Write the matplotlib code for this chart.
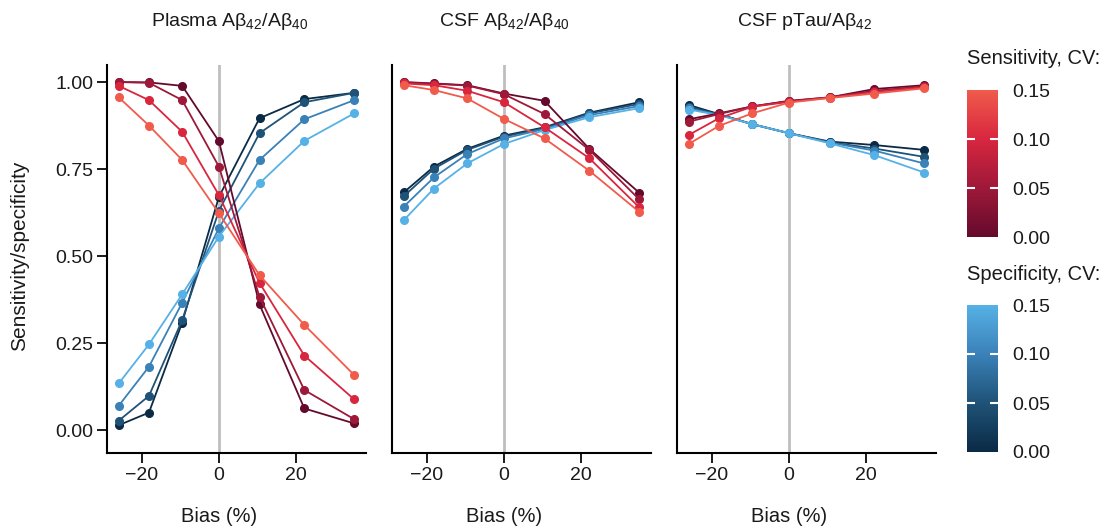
import numpy as np
import matplotlib
matplotlib.use('Agg')
import matplotlib.pyplot as plt
from matplotlib.colors import LinearSegmentedColormap, Normalize
from matplotlib.cm import ScalarMappable

plt.rcParams['font.family'] = ['Liberation Sans', 'DejaVu Sans']
plt.rcParams['mathtext.fontset'] = 'custom'
plt.rcParams['mathtext.rm'] = 'Liberation Sans'

# ---- data ----
bias = [-25.9, -18.1, -9.5, 0.0, 10.5, 22.1, 35.0]
cv_levels = [0.00, 0.05, 0.10, 0.15]

panel_titles = ['Plasma Aβ$_\\mathregular{42}$/Aβ$_\\mathregular{40}$',
                'CSF Aβ$_\\mathregular{42}$/Aβ$_\\mathregular{40}$',
                'CSF pTau/Aβ$_\\mathregular{42}$']

# sensitivity, one row per CV level
sens_plasma = [[1.000, 0.999, 0.989, 0.830, 0.361, 0.062, 0.019],
               [1.000, 0.998, 0.948, 0.757, 0.383, 0.115, 0.031],
               [0.989, 0.948, 0.857, 0.675, 0.423, 0.214, 0.088],
               [0.956, 0.875, 0.776, 0.623, 0.445, 0.302, 0.158]]
spec_plasma = [[0.014, 0.050, 0.309, 0.670, 0.896, 0.951, 0.969],
               [0.027, 0.098, 0.316, 0.630, 0.853, 0.942, 0.969],
               [0.070, 0.182, 0.366, 0.580, 0.776, 0.893, 0.948],
               [0.134, 0.246, 0.390, 0.556, 0.709, 0.831, 0.910]]

sens_csf_ab = [[1.000, 0.996, 0.991, 0.967, 0.946, 0.808, 0.682],
               [0.999, 0.995, 0.990, 0.965, 0.908, 0.805, 0.663],
               [0.996, 0.991, 0.975, 0.942, 0.870, 0.781, 0.640],
               [0.991, 0.977, 0.953, 0.894, 0.838, 0.745, 0.627]]
spec_csf_ab = [[0.683, 0.757, 0.808, 0.846, 0.870, 0.912, 0.942],
               [0.672, 0.751, 0.805, 0.843, 0.868, 0.910, 0.937],
               [0.642, 0.726, 0.793, 0.838, 0.865, 0.905, 0.931],
               [0.603, 0.694, 0.766, 0.822, 0.862, 0.899, 0.925]]

sens_csf_ptau = [[0.893, 0.910, 0.930, 0.946, 0.956, 0.980, 0.991],
                 [0.886, 0.908, 0.930, 0.945, 0.956, 0.975, 0.988],
                 [0.848, 0.896, 0.929, 0.943, 0.955, 0.971, 0.985],
                 [0.822, 0.874, 0.910, 0.941, 0.954, 0.967, 0.982]]
spec_csf_ptau = [[0.934, 0.908, 0.879, 0.853, 0.829, 0.819, 0.805],
                 [0.929, 0.907, 0.879, 0.853, 0.827, 0.809, 0.785],
                 [0.924, 0.906, 0.879, 0.853, 0.826, 0.803, 0.766],
                 [0.921, 0.905, 0.879, 0.853, 0.824, 0.790, 0.740]]

sens_all = [sens_plasma, sens_csf_ab, sens_csf_ptau]
spec_all = [spec_plasma, spec_csf_ab, spec_csf_ptau]

# ---- colours ----
sens_cmap = LinearSegmentedColormap.from_list(
    'sens', ['#640a2c', '#9e1839', '#d8263f', '#f05b4b'])
spec_cmap = LinearSegmentedColormap.from_list(
    'spec', ['#0a2a45', '#1f5277', '#3a81b8', '#56b1e6'])
norm = Normalize(0, 0.15)

W, H = 1107, 529
fig = plt.figure(figsize=(W / 100, H / 100), dpi=100)

lefts = [107, 392, 677]
ax_w, ax_b, ax_h = 259, 76, 388
title_x = [230, 505, 805]   # pixel centres of the panel titles

for i in range(3):
    ax = fig.add_axes([lefts[i] / W, ax_b / H, ax_w / W, ax_h / H])
    ax.axvline(0, color='#bebebe', lw=2, zorder=1)
    for k, cv in enumerate(cv_levels):
        ax.plot(bias, spec_all[i][k], '-o', color=spec_cmap(norm(cv)),
                lw=1.3, ms=5.5, zorder=2 + k)
    for k, cv in enumerate(cv_levels):
        ax.plot(bias, sens_all[i][k], '-o', color=sens_cmap(norm(cv)),
                lw=1.3, ms=5.5, zorder=6 + k)
    ax.set_xlim(-28.95, 38.05)
    ax.set_ylim(-0.066, 1.049)
    ax.set_xticks([-20, 0, 20])
    ax.set_yticks([0, 0.25, 0.5, 0.75, 1.0])
    ax.set_yticklabels(['0.00', '0.25', '0.50', '0.75', '1.00'])
    for s in ['top', 'right']:
        ax.spines[s].set_visible(False)
    for s in ['left', 'bottom']:
        ax.spines[s].set_linewidth(1.5)
        ax.spines[s].set_color('black')
    ax.tick_params(length=7, width=1.4, labelsize=14, pad=3,
                   colors='#1a1a1a')
    if i > 0:
        ax.tick_params(axis='y', left=False, labelleft=False)
    fig.text(title_x[i] / W, 1 - 22 / H, panel_titles[i],
             ha='center', va='center', fontsize=14, color='#1a1a1a')
    ax.text(0, -64 / ax_h, 'Bias (%)', transform=ax.get_xaxis_transform(),
            ha='center', va='center', fontsize=14.5, color='#1a1a1a')

fig.text(20 / W, 1 - 256 / H, 'Sensitivity/specificity', rotation=90,
         ha='center', va='center', fontsize=15, color='#1a1a1a')

# ---- colour bars ----
cbars = [('Sensitivity, CV:', sens_cmap, 90, 237, 58),
         ('Specificity, CV:', spec_cmap, 305, 452, 275)]
for title, cmap, top, bot, ty in cbars:
    cax = fig.add_axes([967 / W, 1 - bot / H, 31 / W, (bot - top) / H])
    cb = fig.colorbar(ScalarMappable(norm=norm, cmap=cmap), cax=cax)
    cb.outline.set_visible(False)
    cb.set_ticks([0, 0.05, 0.10, 0.15])
    cb.set_ticklabels(['0.00', '0.05', '0.10', '0.15'])
    cax.yaxis.set_ticks_position('both')
    cax.tick_params(direction='in', length=6, width=1.5, color='white',
                    labelsize=14, labelleft=False, labelright=True, pad=10,
                    labelcolor='#1a1a1a')
    ticks = cax.yaxis.get_major_ticks()
    for t in (ticks[0], ticks[-1]):
        t.tick1line.set_visible(False)
        t.tick2line.set_visible(False)
    fig.text(967 / W, 1 - ty / H, title, ha='left', va='center',
             fontsize=14.5, color='#1a1a1a')

fig.savefig('out.png', dpi=100)
